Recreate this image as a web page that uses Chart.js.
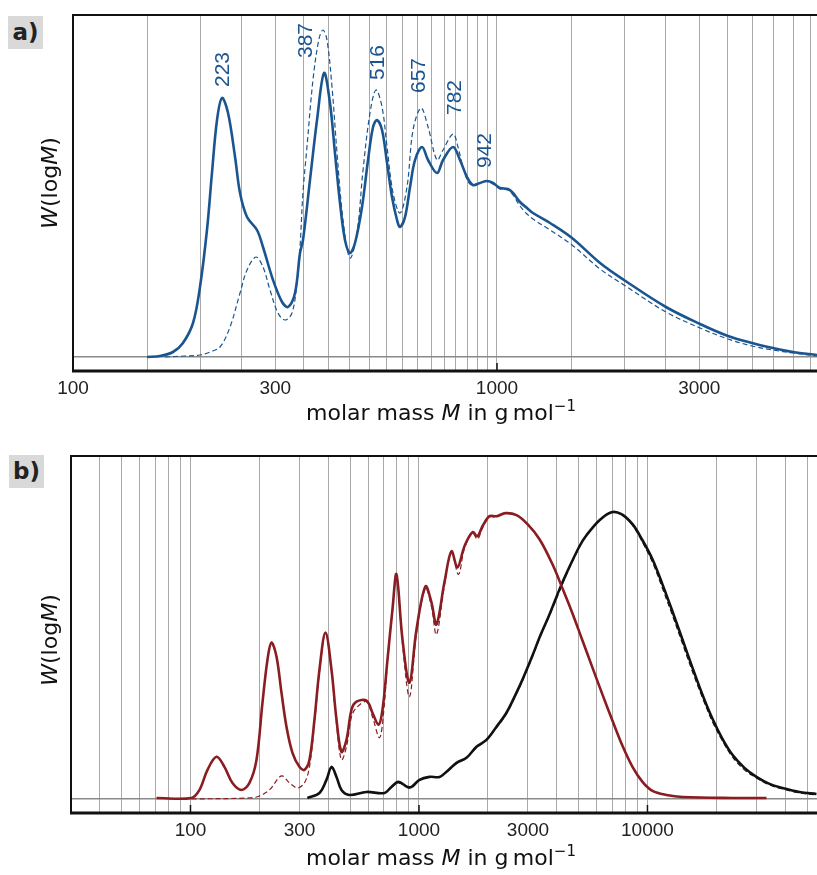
<!DOCTYPE html>
<html>
<head>
<meta charset="utf-8">
<script src="https://cdn.jsdelivr.net/npm/chart.js@4.4.1/dist/chart.umd.min.js"></script>
<style>
  body { margin: 0; background: #fff; }
  #wrap { position: relative; width: 817px; height: 875px; overflow: hidden; background: #fff; }
  canvas { position: absolute; left: 0; }
  #chartA { top: 0; }
  #chartB { top: 440px; }
  .tag { position: absolute; width: 35px; height: 33px; background: #d9d9d9; color: #222;
         font: bold 23px "DejaVu Sans", sans-serif; line-height: 33px; text-align: center; }
  .ytitle { position: absolute; white-space: nowrap; color: #111; font: 22px "DejaVu Sans", sans-serif;
            transform: translate(-50%, -50%) rotate(-90deg); line-height: 22px; }
  .xtitle { position: absolute; white-space: nowrap; color: #111; font: 22px "DejaVu Sans", sans-serif;
            transform: translate(-50%, -50%); line-height: 22px; }
  .xtitle sup { font-size: 15px; vertical-align: 9px; line-height: 0; }
</style>
</head>
<body>
<div id="wrap">
  <canvas id="chartA" width="817" height="440"></canvas>
  <canvas id="chartB" width="817" height="435"></canvas>
  <div class="tag" style="left:8px;top:16px">a)</div>
  <div class="tag" style="left:9px;top:455px">b)</div>
  <div class="ytitle" style="left:50px;top:183px"><i>W</i>(log<i>M</i>)</div>
  <div class="ytitle" style="left:50px;top:640px"><i>W</i>(log<i>M</i>)</div>
  <div class="xtitle" style="left:441px;top:413px">molar mass <i>M</i> in g&#8201;mol<sup>&minus;1</sup></div>
  <div class="xtitle" style="left:441px;top:858px">molar mass <i>M</i> in g&#8201;mol<sup>&minus;1</sup></div>
</div>
<script>
// ---- panel a) : molar mass (g/mol) and W(logM), arbitrary units
const massSolidA = [149.5,160.4,172.1,181.7,191.9,199.3,207.0,212.7,218.6,224.6,232.1,241.1,247.7,257.3,271.6,280.6,296.3,311.2,321.5,333.9,343.1,348.7,362.2,376.3,390.9,403.7,414.8,426.3,438.0,450.1,462.5,480.4,496.4,510.1,521.2,535.6,550.4,565.5,581.1,590.7,606.9,623.6,640.8,665.6,687.7,722.1,746.0,787.7,817.9,849.6,877.7,911.7,947.1,978.6,1016.5,1061.5,1091,1133,1177,1216,1334,1503,1750,1993,2503,3012,3506,3995,4476,4991,5684];
const wSolidA = [0,1,5,14,34,70,127,184,237,259,244,200,164,140,127,110,77,55,50,64,104,117,177,237,284,254,204,154,117,104,114,150,197,230,237,227,194,160,137,130,140,170,197,210,197,184,197,210,197,180,172,174,176,174,169,168,164,155,149,144,134,119,94,77,50,33,21,14,9,5,2];

const massDashA = [164.8,183.8,199.3,210.4,222.2,234.6,247.7,257.3,270.1,280.6,291.5,304.4,316.2,328.5,337.6,343.1,348.7,356.3,368.1,380.3,388.6,397.2,408.2,419.5,433.4,450.1,467.5,483.1,501.7,518.2,535.6,550.4,568.6,590.7,613.4,633.8,662.0,687.7,722.1,746.0,787.7,809.1,831.4,863.6,911.7,947.1,978.6,1016.5,1061.5,1091,1133,1177,1216,1334,1503,1750,1993,2503,3012,3506,3995,4476,4991,5684];
const wDashA = [0,1,2,5,10,30,64,87,100,90,67,44,37,44,75,110,165,210,277,318,327,317,270,204,137,99,124,187,244,267,250,210,164,144,170,227,249,230,197,207,223,210,190,173,174,176,173,168,167,162,151,143,138,127,112,88,72,45,29,18,11,7,4,1];

const peakTextA = ['223', '387', '516', '657', '782', '942'];
const peakMassA = [226, 354, 524, 655, 796, 937];
const peakHeightA = [270, 299, 277, 264, 242, 189];

const gridA = [100,150,200,250,300,350,400,450,500,550,600,650,700,750,800,850,900,950,1000,1500,2000,2500,3000,3500,4000,4500,5000,5500];
const tickLabelsA = [100, 300, 1000, 3000];

// ---- panel b)
const massRedB = [71.0,101.0,109.5,118.7,130.0,140.8,152.7,167.2,181.2,194.5,206.6,217.3,226.2,237.9,250.2,263.1,279.5,299.9,315.4,331.7,348.8,366.9,389.7,414.1,435.6,458.0,481.7,506.6,532.8,589.2,625.9,665.0,692.4,728.1,765.6,797.1,846.9,908.7,975.2,1067.6,1133.9,1192.5,1292.7,1387.4,1474.0,1581.9,1714.6,1803.3,1896.6,2034.9,2183.3,2390.6,2671.5,2985.4,3369.1,3840,4246,4697,5194,5744,6355,7030,7773,8599,9510,10518,12110,14230,23550,33180];
const wRedB = [1,1,9,29,42,32,16,9,16,39,96,139,156,142,106,72,46,32,29,39,79,129,166,129,79,47,59,89,97,98,86,74,89,139,189,224,159,116,169,212,196,174,216,247,231,252,266,262,272,282,282,285,283,274,259,234,210,185,158,131,104,78,53,32,17,8,4,2,1,1];

const massRedDashB = [101.0,181.2,200.5,221.7,250.2,271.2,293.9,315.4,331.7,348.8,366.9,389.7,414.1,435.6,458.0,481.7,506.6,532.8,589.2,625.9,671.6,699.4,728.1,765.6,797.1,846.9,908.7,975.2,1067.6,1133.9,1192.5,1292.7,1387.4,1489,1581.9,1714.6,1803.3,1896.6,2034.9,2183.3,2390.6,2671.5,2985.4,3369.1,3840,4246,4697,5194,5744,6355,7030,7773,8599,9510,10518,12110,14230,23550,33180];
const wRedDashB = [0,1,3,9,23,16,11,16,32,75,127,165,127,75,39,52,82,91,97,82,61,85,136,187,223,155,102,165,210,192,164,213,246,224,250,265,259,270,281,281,285,283,274,259,234,210,185,158,131,104,78,53,32,17,8,4,2,1,1];

const massBlackB = [325.1,366.9,393.6,414.1,435.6,458.0,496.4,589.2,706.5,757.7,813.3,890.5,927.3,1005.1,1111.7,1229.4,1332.5,1459.2,1614.1,1784.8,1974.0,2183.3,2414.6,2671.5,2838,3139.2,3369,3725,4120,4421,5039,5408,6165,6960,7694,8599,9510,10518,11632,12865,14230,15735,17405,19252,21290,23550,26580,29990,34200,38970,46270,54900];
const wBlackB = [1,6,19,32,22,9,4,7,6,12,17,12,12,19,22,22,28,36,41,52,59,72,86,106,119,143,161,184,209,225,252,263,278,286,284,274,258,239,214,187,159,131,104,80,60,44,31,22,15,11,7,5];
const wBlackDashB = [1,6,19,31,22,9,4,7,6,12,16,12,11,19,22,22,28,35,41,51,59,71,85,105,118,142,160,183,207,224,251,263,278,286,284,273,256,236,210,183,155,127,101,77,58,42,29,21,14,10,6,4];

const gridB = [30,40,50,60,70,80,90,100,200,300,400,500,600,700,800,900,1000,2000,3000,4000,5000,6000,7000,8000,9000,10000,20000,30000,40000,50000];
const tickLabelsB = [100, 300, 1000, 3000, 10000];

const blue = '#1b5590';
const red = '#8a1d22';
const black = '#111111';
const tickFont = { family: '"Liberation Sans", Arial, sans-serif', size: 19 };

function pts(mass, w) {
  return mass.map((m, i) => ({ x: m, y: w[i] }));
}

function line(data, color, dashed) {
  return {
    data: data,
    borderColor: color,
    borderWidth: dashed ? 1.2 : 2.6,
    borderDash: dashed ? [5, 3] : [],
    pointRadius: 0,
    fill: false,
    tension: 0.35
  };
}

// frame around plot area plus short inward ticks at the decades
function framePlugin(marks) {
  return {
    id: 'frame',
    afterDatasetsDraw(chart) {
      const ctx = chart.ctx;
      const a = chart.chartArea;
      const x = chart.scales.x;
      ctx.save();
      ctx.strokeStyle = '#111';
      ctx.lineWidth = 2;
      ctx.beginPath();
      ctx.moveTo(a.right + 2, a.top);
      ctx.lineTo(a.left, a.top);
      ctx.lineTo(a.left, a.bottom);
      ctx.stroke();
      ctx.lineWidth = 3;
      ctx.beginPath();
      ctx.moveTo(a.left - 1, a.bottom);
      ctx.lineTo(a.right + 2, a.bottom);
      ctx.stroke();
      ctx.lineWidth = 1.5;
      marks.forEach(function (m) {
        const px = x.getPixelForValue(m);
        ctx.beginPath();
        ctx.moveTo(px, a.bottom);
        ctx.lineTo(px, a.bottom - 8);
        ctx.stroke();
      });
      ctx.restore();
    }
  };
}

// rotated peak masses above the peaks in panel a
const peakLabelPlugin = {
  id: 'peakLabels',
  afterDatasetsDraw(chart) {
    const ctx = chart.ctx;
    const x = chart.scales.x, y = chart.scales.y;
    ctx.save();
    ctx.fillStyle = blue;
    ctx.font = '21px "Liberation Sans", Arial, sans-serif';
    ctx.textAlign = 'left';
    ctx.textBaseline = 'middle';
    peakTextA.forEach(function (t, i) {
      ctx.save();
      ctx.translate(x.getPixelForValue(peakMassA[i]), y.getPixelForValue(peakHeightA[i]));
      ctx.rotate(-Math.PI / 2);
      ctx.fillText(t, 0, 0);
      ctx.restore();
    });
    ctx.restore();
  }
};

function options(xMin, xMax, grid, labels, axisHeight, padLeft, padTop) {
  return {
    responsive: false,
    animation: false,
    devicePixelRatio: 1,
    layout: { autoPadding: false, padding: { left: padLeft, top: padTop, right: 0, bottom: 0 } },
    plugins: { legend: { display: false }, tooltip: { enabled: false } },
    scales: {
      x: {
        type: 'logarithmic',
        min: xMin,
        max: xMax,
        afterBuildTicks: function (s) { s.ticks = grid.map(v => ({ value: v })); },
        afterFit: function (s) { s.height = axisHeight; },
        grid: { color: '#a9a9a9', lineWidth: 1, drawTicks: false },
        border: { display: false },
        ticks: {
          autoSkip: false, maxRotation: 0, padding: 6, color: '#222', font: tickFont,
          callback: function (v) { return labels.includes(v) ? String(v) : ''; }
        }
      },
      y: {
        min: -14,
        max: 342,
        afterBuildTicks: function (s) { s.ticks = [{ value: 0 }]; },
        afterFit: function (s) { s.width = 0; },
        ticks: { display: false },
        grid: { color: '#8a8a8a', lineWidth: 1.5, drawTicks: false },
        border: { display: false }
      }
    }
  };
}

new Chart(document.getElementById('chartA'), {
  type: 'line',
  data: {
    datasets: [
      line(pts(massSolidA, wSolidA), blue, false),
      line(pts(massDashA, wDashA), blue, true)
    ]
  },
  options: options(100, 5685, gridA, tickLabelsA, 69, 73, 15),
  plugins: [framePlugin([1000]), peakLabelPlugin]
});

new Chart(document.getElementById('chartB'), {
  type: 'line',
  data: {
    datasets: [
      line(pts(massRedB, wRedB), red, false),
      line(pts(massBlackB, wBlackB), black, false),
      line(pts(massRedDashB, wRedDashB), red, true),
      line(pts(massBlackB, wBlackDashB), black, true)
    ]
  },
  options: options(30, 55200, gridB, tickLabelsB, 62, 71, 16),
  plugins: [framePlugin([100, 1000, 10000])]
});
</script>
</body>
</html>
